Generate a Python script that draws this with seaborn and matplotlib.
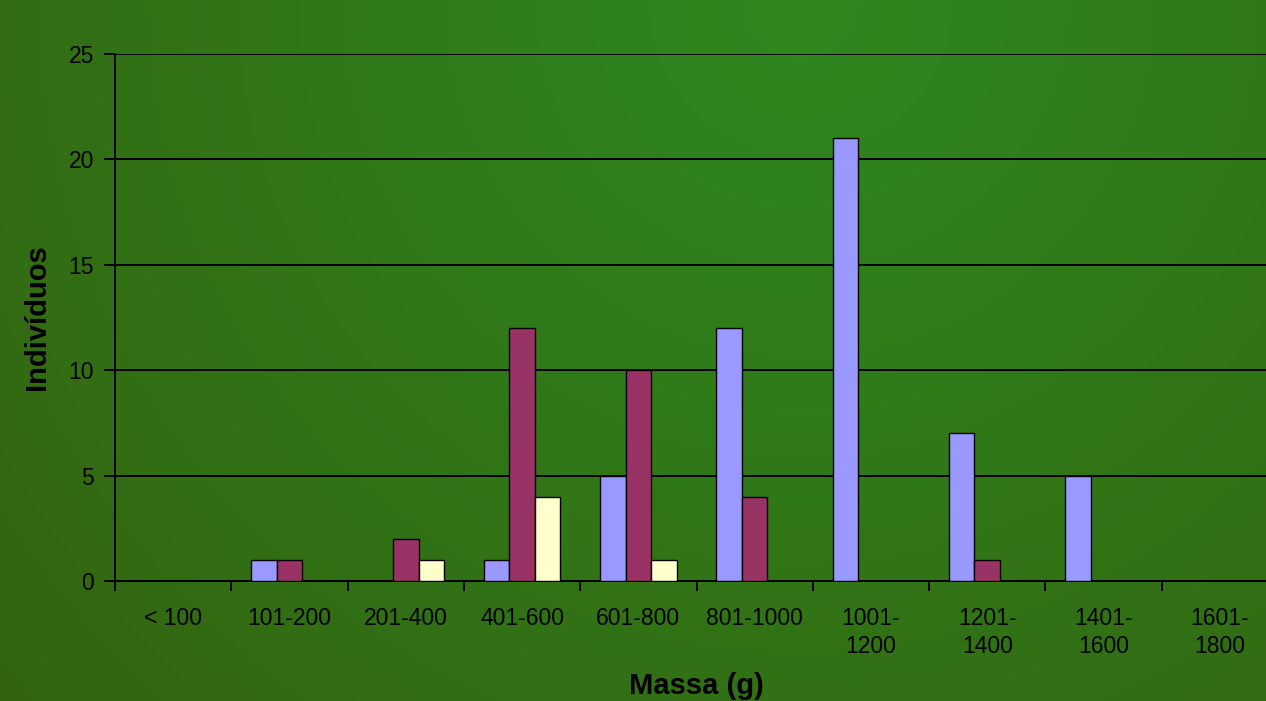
import numpy as np
import pandas as pd
import matplotlib
matplotlib.use("Agg")
import matplotlib.pyplot as plt
from matplotlib.ticker import FixedLocator
import seaborn as sns

# Mass classes (g) and number of individuals per group
categories = ["< 100", "101-200", "201-400", "401-600", "601-800", "801-1000",
              "1001-\n1200", "1201-\n1400", "1401-\n1600", "1601-\n1800"]
serie_a = [0, 1, 0, 1, 5, 12, 21, 7, 5, 0]
serie_b = [0, 1, 2, 12, 10, 4, 0, 1, 0, 0]
serie_c = [0, 0, 1, 4, 1, 0, 0, 0, 0, 0]
series_names = ["A", "B", "C"]
y_ticks = [0, 5, 10, 15, 20, 25]

colors = ["#9999FF", "#993366", "#FFFFCC"]

df = pd.DataFrame({
    "Massa": categories * 3,
    "Indivíduos": serie_a + serie_b + serie_c,
    "Grupo": [series_names[0]] * len(categories)
             + [series_names[1]] * len(categories)
             + [series_names[2]] * len(categories),
})

sns.set_theme(style="white")
plt.rcParams["font.family"] = ["Liberation Sans", "DejaVu Sans"]

W, H = 1266, 701
fig = plt.figure(figsize=(W / 100, H / 100), dpi=100)

# Radial green background
bg = fig.add_axes([0, 0, 1, 1], zorder=-10)
yy, xx = np.mgrid[0:H, 0:W]
d = np.sqrt((xx - 800.0) ** 2 + (yy - 0.0) ** 2) / 1064.0
d = np.clip(d, 0, 1)[..., None]
c0 = np.array([47, 136, 30]) / 255.0
c1 = np.array([51, 100, 16]) / 255.0
img = c0 * (1 - d) + c1 * d
bg.imshow(img, aspect="auto", extent=[0, 1, 0, 1], origin="upper")
bg.axis("off")

left = 115 / W
right = 1278 / W
bottom = 1 - 581 / H
top = 1 - 54 / H
ax = fig.add_axes([left, bottom, right - left, top - bottom])
ax.patch.set_alpha(0)

sns.barplot(data=df, x="Massa", y="Indivíduos", hue="Grupo", palette=colors,
            width=0.66, edgecolor="black", linewidth=1.0, saturation=1,
            legend=False, ax=ax, zorder=3)

ax.set_xlim(-0.5, len(categories) - 0.5)
ax.set_ylim(0, 25)
ax.set_yticks(y_ticks)
ax.yaxis.grid(True, color="black", linewidth=1.4, zorder=0)
ax.xaxis.grid(False)
ax.set_axisbelow(True)

for s in ["top", "right"]:
    ax.spines[s].set_visible(False)
for s in ["left", "bottom"]:
    ax.spines[s].set_color("black")
    ax.spines[s].set_linewidth(1.4)

ax.tick_params(axis="y", which="major", direction="out", length=8, width=1.4,
               color="black", left=True, labelsize=16.5, labelcolor="black", pad=7)
ax.tick_params(axis="x", which="major", length=0, labelsize=16.5,
               labelcolor="black", pad=19)
ax.xaxis.set_minor_locator(FixedLocator(np.arange(-0.5, len(categories), 1.0)))
ax.tick_params(axis="x", which="minor", direction="out", length=7, width=1.4,
               color="black", bottom=True)
for lbl in ax.get_xticklabels():
    lbl.set_linespacing(1.25)
    lbl.set_verticalalignment("top")

ax.set_xlabel("Massa (g)", fontsize=21, fontweight="bold", color="black",
              labelpad=10)
ax.set_ylabel("Indivíduos", fontsize=21, fontweight="bold", color="black",
              labelpad=13)

fig.savefig("out.png", dpi=100)
